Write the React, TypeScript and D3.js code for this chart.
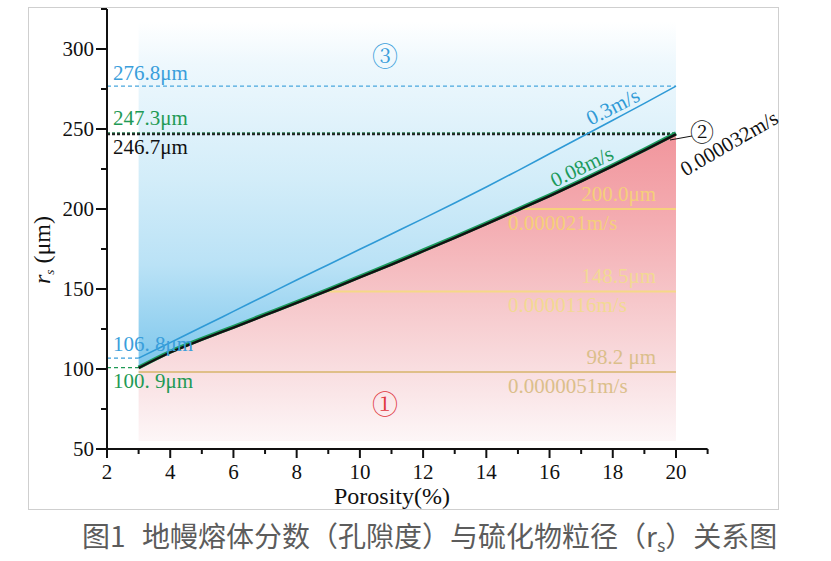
import React from 'react';
import * as d3 from 'd3';

// ---- data ----
const porosity = [3, 4, 5, 6, 7, 8, 9, 10, 11, 12, 13, 14, 15, 16, 17, 18, 19, 20];
const rsBlack = [100.6, 110.3, 118.3, 125.9, 133.6, 141.3, 149.1, 157.3, 165.3, 173.6, 182.0, 190.6, 199.3, 208.1, 217.3, 226.8, 236.6, 246.7];
const rsGreen = [100.9, 110.8, 118.8, 126.4, 134.1, 141.8, 149.6, 157.8, 165.8, 174.1, 182.5, 191.1, 199.8, 208.6, 217.8, 227.3, 237.1, 247.3];
const rsBlue = [106.8, 116.5, 126.2, 136.0, 145.8, 155.6, 165.2, 174.8, 184.4, 194.0, 203.8, 213.8, 224.0, 234.5, 245.0, 255.5, 266.0, 276.8];

const xMajor = [2, 4, 6, 8, 10, 12, 14, 16, 18, 20];
const xMinor = [3, 5, 7, 9, 11, 13, 15, 17, 19, 21];
const yMajor = [50, 100, 150, 200, 250, 300];
const yMinor = [75, 125, 175, 225, 275, 325];

const topLines = [
  { v: 276.8, dash: '4,3', lineColor: '#4aa7dd', w: 1.2 },
  { v: 247.3, dash: '3,2', lineColor: '#1f7a4a', w: 2 },
  { v: 246.7, dash: '3,2', lineColor: '#222', w: 2 },
];
const startLines = [
  { v: 106.8, lineColor: '#3a9edb' },
  { v: 100.9, lineColor: '#1f9a55' },
];
const yellowLines = [
  { v: 200.0, um: '200.0μm', speed: '0.000021m/s', line: '#f6d07c', text: '#f5cf7a' },
  { v: 148.5, um: '148.5μm', speed: '0.0000116m/s', line: '#f5d888', text: '#f2d993' },
  { v: 98.2, um: '98.2 μm', speed: '0.0000051m/s', line: '#dfbf88', text: '#dbbf8b' },
];

const W = 831;
const H = 561;
const serifStyle = { fontFamily: "'Liberation Serif'" };
const circStyle = { fontFamily: "'Noto Serif CJK SC'" };
const cjkStyle = { fontFamily: "'Noto Sans CJK SC'" };

export default function App() {
  const x = d3.scaleLinear().domain([2, 21]).range([107, 707.6]);
  const y = d3.scaleLinear().domain([50, 325]).range([449, 9]);
  const shadeTop = 317;
  const shadeBottom = 55;

  const pts = (arr: number[]) => porosity.map((p, i) => [p, arr[i]] as [number, number]);
  const line = d3
    .line<[number, number]>()
    .x((d) => x(d[0]))
    .y((d) => y(d[1]))
    .curve(d3.curveMonotoneX);
  const areaAbove = d3
    .area<[number, number]>()
    .x((d) => x(d[0]))
    .y0(() => y(shadeTop))
    .y1((d) => y(d[1]))
    .curve(d3.curveMonotoneX);
  const areaBelow = d3
    .area<[number, number]>()
    .x((d) => x(d[0]))
    .y0(() => y(shadeBottom))
    .y1((d) => y(d[1]))
    .curve(d3.curveMonotoneX);

  const crossX = (v: number) => {
    if (v <= rsBlack[0]) return porosity[0];
    for (let i = 1; i < porosity.length; i++) {
      if (rsBlack[i] >= v) {
        const t = (v - rsBlack[i - 1]) / (rsBlack[i] - rsBlack[i - 1]);
        return porosity[i - 1] + t * (porosity[i] - porosity[i - 1]);
      }
    }
    return porosity[porosity.length - 1];
  };

  const x0 = 107;
  const xEnd = x(20);
  const xStart = x(3);

  return (
    <svg width={W} height={H} style={{ position: 'absolute', left: 0, top: 0, background: '#fff' }}>
      <defs>
        <linearGradient id="blueG" gradientUnits="userSpaceOnUse" x1="0" y1={y(shadeTop)} x2="0" y2={y(100)}>
          <stop offset="0" stopColor="#ffffff" />
          <stop offset="0.12" stopColor="#eef8fd" />
          <stop offset="0.45" stopColor="#d3edf9" />
          <stop offset="0.7" stopColor="#bae2f6" />
          <stop offset="1" stopColor="#7cc6ec" />
        </linearGradient>
        <linearGradient id="redG" gradientUnits="userSpaceOnUse" x1="0" y1={y(250)} x2="0" y2={y(shadeBottom)}>
          <stop offset="0" stopColor="#f1949b" />
          <stop offset="0.3" stopColor="#f4adb2" />
          <stop offset="0.55" stopColor="#f6c7ca" />
          <stop offset="0.85" stopColor="#fae6e8" />
          <stop offset="1" stopColor="#fdf6f7" />
        </linearGradient>
      </defs>

      <rect x={28.5} y={7.5} width={750} height={502} fill="none" stroke="#cfcfcf" strokeWidth={1} />

      <path d={areaAbove(pts(rsBlack)) || ''} fill="url(#blueG)" />
      <path d={areaBelow(pts(rsBlack)) || ''} fill="url(#redG)" />

      {yellowLines.map((l) => (
        <line key={l.v} x1={x(crossX(l.v))} x2={xEnd} y1={y(l.v)} y2={y(l.v)} stroke={l.line} strokeWidth={2} />
      ))}

      {topLines.map((l) => (
        <line key={l.v} x1={x0} x2={xEnd} y1={y(l.v)} y2={y(l.v)} stroke={l.lineColor} strokeWidth={l.w} strokeDasharray={l.dash} />
      ))}
      {startLines.map((l) => (
        <line key={l.v} x1={x0} x2={xStart} y1={y(l.v)} y2={y(l.v)} stroke={l.lineColor} strokeWidth={1.3} strokeDasharray="4,3" />
      ))}

      <path d={line(pts(rsBlue)) || ''} fill="none" stroke="#2f9ad6" strokeWidth={1.6} />
      <path d={line(pts(rsGreen)) || ''} fill="none" stroke="#1b9a5c" strokeWidth={4} />
      <path d={line(pts(rsBlack)) || ''} fill="none" stroke="#111" strokeWidth={2.4} />

      <line x1={x0} x2={x0} y1={y(325)} y2={y(50)} stroke="#111" strokeWidth={2} />
      <line x1={x0} x2={x(21)} y1={y(50)} y2={y(50)} stroke="#111" strokeWidth={2} />
      {xMajor.map((t) => (
        <g key={'xm' + t}>
          <line x1={x(t)} x2={x(t)} y1={y(50)} y2={y(50) + 9} stroke="#111" strokeWidth={2} />
          <text x={x(t)} y={479} textAnchor="middle" style={serifStyle} fontSize={21} fill="#111">{t}</text>
        </g>
      ))}
      {xMinor.map((t) => (
        <line key={'xn' + t} x1={x(t)} x2={x(t)} y1={y(50)} y2={y(50) + 5} stroke="#111" strokeWidth={2} />
      ))}
      {yMajor.map((t) => (
        <g key={'ym' + t}>
          <line x1={x0 - 11} x2={x0} y1={y(t)} y2={y(t)} stroke="#111" strokeWidth={2} />
          <text x={94} y={y(t) + 7} textAnchor="end" style={serifStyle} fontSize={21} fill="#111">{t}</text>
        </g>
      ))}
      {yMinor.map((t) => (
        <line key={'yn' + t} x1={x0 - 6} x2={x0} y1={y(t)} y2={y(t)} stroke="#111" strokeWidth={2} />
      ))}

      <text x={392} y={504} textAnchor="middle" style={serifStyle} fontSize={24} fill="#111">Porosity(%)</text>
      <text transform="translate(50,250) rotate(-90)" textAnchor="middle" style={serifStyle} fontSize={24} fill="#111">
        <tspan fontStyle="italic">r</tspan>
        <tspan fontStyle="italic" fontSize={13} dy={4}>s</tspan>
        <tspan dy={-4}> (μm)</tspan>
      </text>

      <text x={113} y={80} style={serifStyle} fontSize={21} fill="#3a9edb">276.8μm</text>
      <text x={113} y={125} style={serifStyle} fontSize={21} fill="#1f9a55">247.3μm</text>
      <text x={113} y={154} style={serifStyle} fontSize={21} fill="#111">246.7μm</text>
      <text x={113} y={351} style={serifStyle} fontSize={21} fill="#3a9edb">106. 8μm</text>
      <text x={113} y={388} style={serifStyle} fontSize={21} fill="#1f9a55">100. 9μm</text>

      {yellowLines.map((l) => (
        <g key={'yl' + l.v}>
          <text x={656} y={y(l.v) - 8} textAnchor="end" style={serifStyle} fontSize={21} fill={l.text}>{l.um}</text>
          <text x={508} y={y(l.v) + 21} style={serifStyle} fontSize={21} fill={l.text}>{l.speed}</text>
        </g>
      ))}

      <text transform="translate(616,113) rotate(-27)" textAnchor="middle" style={serifStyle} fontSize={21} fill="#2f9ad6">0.3m/s</text>
      <text transform="translate(585,173) rotate(-26)" textAnchor="middle" style={serifStyle} fontSize={21} fill="#1b9a5c">0.08m/s</text>
      <text transform="translate(729,143) rotate(-30)" textAnchor="middle" dy="0.35em" style={serifStyle} fontSize={21} fill="#111">0.000032m/s</text>

      <text x={385} y={57} textAnchor="middle" dy="0.35em" style={circStyle} fontSize={26} fill="#3a9edb">③</text>
      <text x={385} y={405} textAnchor="middle" dy="0.35em" style={circStyle} fontSize={26} fill="#e0363c">①</text>
      <line x1={670} y1={140} x2={692} y2={136} stroke="#111" strokeWidth={1} />
      <text x={702} y={133} textAnchor="middle" dy="0.35em" style={circStyle} fontSize={24} fill="#111">②</text>

      <text x={82} y={547} style={cjkStyle} fontSize={28} fill="#5c5c5c">图1</text>
      <text x={142} y={547} style={cjkStyle} fontSize={28} fill="#5c5c5c">
        地幔熔体分数（孔隙度）与硫化物粒径（r<tspan fontSize={18} dy={5}>s</tspan><tspan dy={-5}>）关系图</tspan>
      </text>
    </svg>
  );
}
